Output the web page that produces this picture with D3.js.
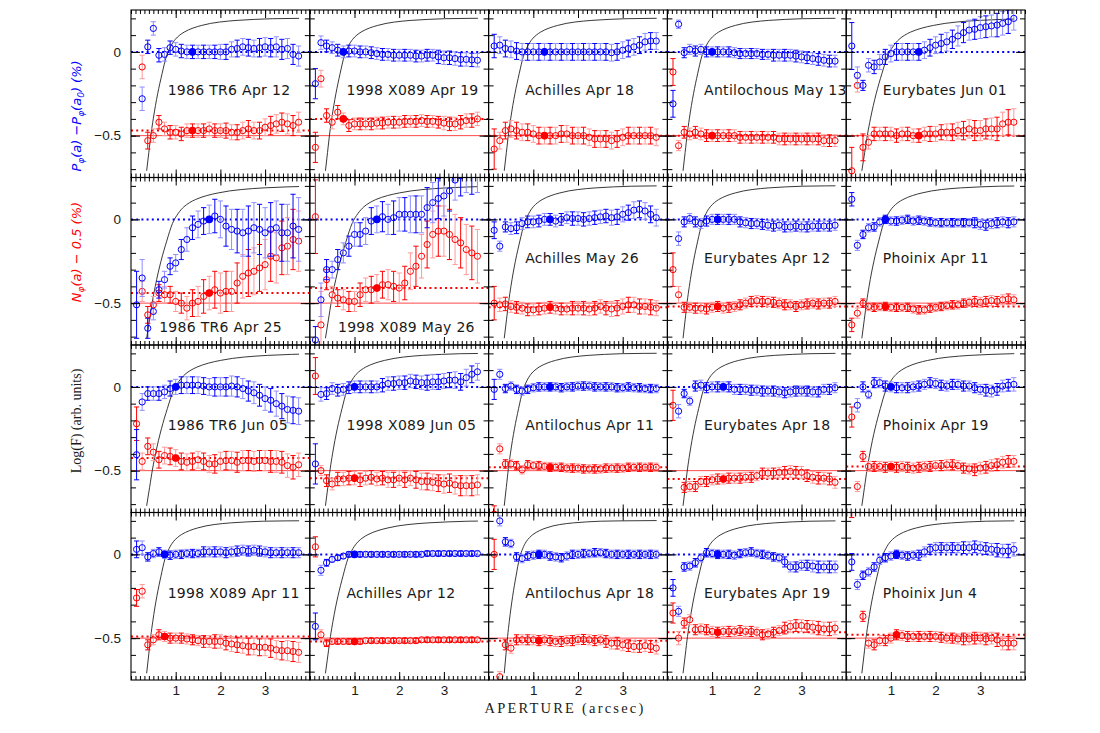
<!DOCTYPE html>
<html><head><meta charset="utf-8">
<script src="https://cdn.jsdelivr.net/npm/d3@7"></script>
<style>body{margin:0;background:#fff}svg{display:block}</style>
</head><body>
<svg id="chart" width="1100" height="733"></svg>
<script>
// ---------------- DATA ----------------
const apertures = [0.125,0.25,0.375,0.5,0.625,0.75,0.875,1,1.125,1.25,1.375,1.5,1.625,1.75,1.875,2,2.125,2.25,2.375,2.5,2.625,2.75,2.875,3,3.125,3.25,3.375,3.5,3.625,3.75];
const panelNames = ["1986 TR6 Apr 12","1998 X089 Apr 19","Achilles Apr 18","Antilochous May 13","Eurybates Jun 01",
  "1986 TR6 Apr 25","1998 X089 May 26","Achilles May 26","Eurybates Apr 12","Phoinix Apr 11",
  "1986 TR6 Jun 05","1998 X089 Jun 05","Antilochus Apr 11","Eurybates Apr 18","Phoinix Apr 19",
  "1998 X089 Apr 11","Achilles Apr 12","Antilochus Apr 18","Eurybates Apr 19","Phoinix Jun 4"];
const refIndex = [10,5,9,7,12, 13,11,10,8,6, 7,7,10,9,7, 5,7,8,8,8];
const yTickValues = [0,-0.5];
const yTickLabels = ["0","\u22120.5"];
const xTickValues = [1,2,3];
const xTickLabels = ["1","2","3"];

const blueP = [
[null,-0.28,0.03,0.14,-0.02,-0.015,0.025,0.015,0.005,0,0,0,0,0,0,0,0,0.015,0.02,0.03,0.025,0.02,0.025,0.03,0.025,0.03,0.015,0.02,-0.015,-0.025],
[-0.19,0.055,0.035,0.025,0.01,0,0.005,0.005,0,0,-0.005,-0.01,-0.015,-0.015,-0.02,-0.02,-0.02,-0.02,-0.025,-0.025,-0.02,-0.02,-0.03,-0.035,-0.035,-0.04,-0.045,-0.045,-0.048,-0.05],
[0.035,0.04,0.02,0.015,0.005,0,0,0,0,0,0,0,0,0,0,0,0,0,0,0,0,-0.005,0,0.01,0.02,0.03,0.04,0.06,0.065,0.065],
[-0.31,0.165,-0.005,0.015,0.005,0.015,0,0,0,0,0,-0.005,-0.01,-0.01,-0.01,-0.01,-0.015,-0.015,-0.02,-0.02,-0.02,-0.02,-0.025,-0.03,-0.035,-0.04,-0.045,-0.05,-0.055,-0.055],
[0.035,-0.14,-0.2,-0.08,-0.09,-0.06,-0.03,-0.01,0,0,0,0,0,0.01,0.025,0.04,0.05,0.06,0.075,0.095,0.115,0.13,0.135,0.145,0.15,0.155,0.16,0.17,0.18,0.2],
[-0.51,-0.35,-0.65,-0.55,-0.42,-0.36,-0.28,-0.26,-0.18,-0.12,-0.05,-0.03,-0.01,0,0.02,0,-0.04,-0.06,-0.07,-0.08,-0.07,-0.05,-0.06,-0.08,-0.06,-0.05,-0.08,-0.08,-0.04,-0.06],
[-0.72,-0.48,-0.30,-0.30,-0.24,-0.2,-0.16,-0.09,-0.09,-0.07,-0.01,0,0.016,0,0.01,0.03,0.03,0.03,0.03,0.03,0.07,0.1,0.125,0.14,0.17,0.235,0.26,0.28,0.27,0.28],
[-0.065,-0.16,-0.045,-0.055,-0.05,-0.025,-0.015,-0.015,-0.01,0,0,-0.01,0,0.01,0.005,0.005,0,0.005,0.01,0.015,0.02,0.01,0.015,0.03,0.04,0.055,0.06,0.05,0.03,0.01],
[null,-0.115,-0.015,0.005,-0.015,-0.025,-0.01,0,0,0,0,0,-0.015,-0.02,-0.025,-0.025,-0.03,-0.035,-0.04,-0.035,-0.045,-0.045,-0.04,-0.045,-0.045,-0.04,-0.04,-0.04,-0.04,-0.035],
[0.12,-0.155,-0.09,-0.05,-0.045,-0.015,0,-0.01,-0.01,-0.005,0,-0.01,-0.005,-0.01,-0.015,-0.02,-0.02,-0.02,-0.02,-0.02,-0.02,-0.02,-0.02,-0.03,-0.035,-0.025,-0.02,-0.015,-0.02,-0.015],
[-0.405,-0.09,-0.04,-0.04,-0.04,-0.03,-0.01,0,0.01,0.01,0.01,0.01,0.005,0,0,0,0,0.005,0,-0.01,-0.025,-0.035,-0.05,-0.07,-0.08,-0.1,-0.115,-0.135,-0.14,-0.145],
[-0.46,-0.045,-0.04,-0.01,-0.02,-0.015,-0.005,0,0,0,0,0,0.01,0.02,0.02,0.025,0.025,0.035,0.03,0.025,0.025,0.03,0.03,0.035,0.04,0.04,0.03,0.055,0.075,0.09],
[-0.015,0.075,-0.01,0.005,-0.015,-0.025,-0.015,-0.005,0,0,0,0,-0.005,0,0,0.005,0.005,0.005,0,0,0,0,-0.005,-0.005,0,-0.005,-0.005,-0.01,-0.01,-0.01],
[null,-0.145,-0.04,-0.085,0.005,0.01,-0.005,0,0,0,0,-0.015,-0.015,-0.015,-0.02,-0.02,-0.025,-0.025,-0.025,-0.03,-0.035,-0.03,-0.025,-0.025,-0.025,-0.03,-0.03,-0.015,-0.015,-0.005],
[null,-0.11,0,-0.045,0.025,0.025,0.005,0,-0.005,-0.005,-0.005,0,0.005,0.015,0.025,0.02,0.01,0.005,0.015,0.015,0.005,0.005,-0.005,-0.015,-0.02,-0.025,-0.015,0.005,0.01,0.015],
[0.03,0.04,-0.015,0.005,0.015,0,-0.005,0,0,0.005,0.005,0.005,0.015,0.015,0.015,0.015,0.01,0.015,0.02,0.025,0.02,0.025,0.02,0.015,0.01,0.01,0.01,0.01,0.01,0.01],
[-0.43,-0.095,-0.05,-0.03,-0.02,-0.01,0,0,0,0,0,0,0,0,0,0,0,0,0,0,0.005,0.005,0.005,0.005,0.005,0.005,0.005,0.005,0.005,0.005],
[null,0.2,0.075,0.065,-0.015,-0.025,-0.01,-0.005,0,0,-0.01,-0.015,-0.02,-0.01,0,0,0.005,0.005,0.01,0.01,0.005,0,0,0,0,0,0,0,0,0],
[-0.2,-0.34,-0.075,-0.07,-0.05,-0.02,0.01,0.005,0,0,0,-0.005,0.005,0.01,0.015,0.005,0,-0.005,-0.015,-0.02,-0.045,-0.075,-0.075,-0.065,-0.065,-0.07,-0.075,-0.075,-0.075,-0.075],
[-0.045,-0.18,-0.125,-0.105,-0.075,-0.035,-0.02,-0.01,0,-0.005,-0.01,-0.005,-0.005,0.015,0.03,0.04,0.04,0.04,0.04,0.04,0.04,0.04,0.045,0.04,0.035,0.03,0.025,0.02,0.02,0.03]
];
const blueErr = [
[0,.07,.04,.04,.04,.04,.04,.04,.04,.04,.04,.04,.04,.04,.04,.045,.045,.045,.05,.05,.05,.05,.055,.055,.055,.06,.06,.06,.06,.06],
[.09,.04,.035,.035,.035,.035,.035,.035,.035,.035,.035,.035,.035,.035,.035,.035,.035,.035,.035,.035,.035,.035,.04,.04,.04,.04,.04,.04,.04,.04],
[.07,.05,.05,.05,.05,.05,.05,.05,.05,.05,.05,.05,.05,.05,.05,.05,.05,.05,.05,.05,.05,.05,.05,.05,.05,.05,.05,.05,.05,.05],
[.08,.025,.03,.03,.03,.03,.03,.03,.03,.03,.03,.03,.03,.03,.03,.03,.03,.03,.035,.035,.035,.035,.035,.035,.035,.035,.035,.035,.035,.035],
[.14,.05,.03,.04,.04,.045,.045,.05,.05,.05,.05,.05,.05,.05,.05,.05,.055,.055,.055,.06,.06,.06,.06,.065,.065,.065,.07,.07,.07,.07],
[.2,.11,.06,.05,.05,.05,.05,.05,.06,.07,.07,.08,.08,.085,.1,.11,.12,.12,.13,.14,.15,.15,.15,.15,.16,.16,.17,.17,.19,.19],
[.08,.1,.06,.05,.06,.06,.06,.07,.07,.08,.08,.08,.09,.09,.1,.1,.1,.11,.11,.11,.12,.12,.12,.12,.12,.12,.12,.12,.12,.12],
[.05,.03,.03,.035,.035,.035,.035,.035,.035,.035,.035,.035,.035,.035,.04,.04,.04,.04,.04,.04,.04,.045,.045,.045,.045,.05,.05,.05,.05,.05],
[0,.04,.03,.03,.03,.03,.03,.03,.03,.03,.03,.03,.03,.03,.03,.03,.03,.03,.03,.03,.03,.03,.03,.03,.03,.03,.03,.03,.03,.03],
[.04,.03,.025,.025,.025,.025,.025,.025,.025,.025,.025,.025,.025,.025,.025,.025,.025,.025,.025,.025,.025,.025,.03,.03,.03,.03,.03,.03,.03,.03],
[.15,.05,.04,.04,.04,.04,.045,.045,.05,.05,.05,.05,.05,.05,.055,.055,.055,.06,.06,.06,.06,.065,.065,.07,.07,.075,.075,.08,.08,.08],
[.12,.04,.035,.035,.035,.035,.035,.035,.035,.035,.035,.035,.04,.04,.04,.04,.04,.04,.04,.04,.045,.045,.045,.045,.045,.05,.05,.05,.05,.05],
[.06,.03,.025,.025,.025,.025,.025,.025,.025,.025,.025,.025,.025,.025,.025,.025,.025,.025,.025,.025,.025,.025,.025,.025,.025,.025,.025,.025,.025,.025],
[0,.04,.025,.025,.03,.03,.03,.03,.03,.03,.03,.03,.03,.03,.03,.03,.03,.03,.03,.03,.03,.03,.03,.03,.03,.03,.03,.03,.03,.03],
[0,.04,.03,.025,.03,.03,.03,.03,.03,.03,.03,.03,.03,.03,.03,.03,.03,.03,.03,.03,.03,.03,.03,.03,.035,.035,.035,.035,.035,.04],
[.05,.04,.025,.025,.025,.025,.025,.025,.025,.025,.025,.025,.03,.03,.03,.03,.03,.03,.03,.03,.03,.03,.03,.03,.03,.03,.03,.03,.03,.03],
[.08,.03,.02,.015,.015,.015,.015,.015,.015,.015,.015,.015,.015,.015,.015,.015,.015,.015,.015,.015,.015,.015,.015,.015,.015,.015,.015,.015,.015,.015],
[0,.03,.025,.025,.025,.025,.025,.025,.025,.025,.025,.025,.025,.025,.025,.025,.025,.025,.025,.025,.025,.025,.025,.025,.025,.025,.025,.025,.025,.025],
[.05,.03,.025,.025,.025,.025,.025,.025,.025,.025,.025,.025,.025,.025,.025,.025,.025,.025,.025,.025,.03,.03,.03,.03,.03,.035,.035,.035,.035,.035],
[.05,.03,.025,.025,.025,.025,.025,.025,.025,.025,.025,.025,.03,.03,.03,.03,.03,.03,.03,.03,.035,.035,.035,.035,.035,.035,.04,.04,.04,.04]
];
const redN = [
[null,-0.09,-0.53,-0.5,-0.42,-0.46,-0.48,-0.48,-0.49,-0.47,-0.47,-0.47,-0.47,-0.46,-0.47,-0.47,-0.47,-0.48,-0.48,-0.47,-0.46,-0.47,-0.47,-0.45,-0.44,-0.43,-0.42,-0.43,-0.44,-0.42],
[-0.57,-0.16,-0.38,-0.42,-0.36,-0.40,-0.44,-0.43,-0.43,-0.43,-0.43,-0.425,-0.425,-0.42,-0.42,-0.42,-0.415,-0.415,-0.415,-0.41,-0.415,-0.415,-0.42,-0.425,-0.43,-0.43,-0.42,-0.41,-0.41,-0.40],
[-0.58,-0.53,-0.47,-0.46,-0.47,-0.48,-0.48,-0.49,-0.5,-0.5,-0.5,-0.5,-0.49,-0.49,-0.5,-0.5,-0.5,-0.51,-0.52,-0.52,-0.52,-0.53,-0.52,-0.51,-0.5,-0.5,-0.5,-0.5,-0.5,-0.51],
[-0.12,-0.56,-0.48,-0.49,-0.48,-0.49,-0.5,-0.5,-0.5,-0.5,-0.5,-0.5,-0.51,-0.51,-0.51,-0.51,-0.51,-0.51,-0.51,-0.52,-0.52,-0.52,-0.52,-0.52,-0.52,-0.52,-0.52,-0.53,-0.53,-0.53],
[-0.71,-0.2,-0.57,-0.54,-0.49,-0.49,-0.49,-0.49,-0.5,-0.49,-0.49,-0.5,-0.5,-0.49,-0.49,-0.49,-0.48,-0.48,-0.48,-0.47,-0.47,-0.46,-0.47,-0.47,-0.46,-0.46,-0.46,-0.43,-0.42,-0.42],
[null,-0.43,-0.57,-0.51,-0.44,-0.45,-0.45,-0.49,-0.5,-0.53,-0.5,-0.49,-0.46,-0.44,-0.42,-0.44,-0.43,-0.43,-0.38,-0.34,-0.32,-0.31,-0.29,-0.27,-0.22,-0.23,-0.17,-0.16,-0.12,-0.13],
[0.016,-0.63,-0.36,-0.45,-0.47,-0.48,-0.49,-0.49,-0.45,-0.42,-0.42,-0.41,-0.39,-0.39,-0.40,-0.41,-0.38,-0.31,-0.28,-0.22,-0.15,-0.09,-0.07,-0.07,-0.09,-0.12,-0.14,-0.18,-0.2,-0.22],
[-0.5,-0.51,-0.505,-0.52,-0.525,-0.53,-0.54,-0.54,-0.535,-0.53,-0.525,-0.53,-0.535,-0.535,-0.53,-0.53,-0.53,-0.535,-0.53,-0.52,-0.53,-0.535,-0.53,-0.52,-0.51,-0.51,-0.52,-0.52,-0.525,-0.53],
[-0.3,-0.45,-0.525,-0.525,-0.53,-0.53,-0.535,-0.525,-0.52,-0.53,-0.525,-0.52,-0.51,-0.5,-0.49,-0.485,-0.49,-0.49,-0.495,-0.5,-0.51,-0.51,-0.52,-0.51,-0.505,-0.5,-0.505,-0.5,-0.5,-0.49],
[-0.63,-0.56,-0.5,-0.52,-0.525,-0.52,-0.52,-0.525,-0.525,-0.525,-0.525,-0.535,-0.54,-0.54,-0.53,-0.525,-0.52,-0.515,-0.51,-0.51,-0.5,-0.495,-0.49,-0.495,-0.49,-0.485,-0.49,-0.48,-0.475,-0.48],
[-0.22,-0.445,-0.355,-0.39,-0.435,-0.41,-0.415,-0.425,-0.445,-0.45,-0.445,-0.435,-0.445,-0.46,-0.46,-0.445,-0.44,-0.44,-0.45,-0.44,-0.44,-0.445,-0.44,-0.44,-0.445,-0.445,-0.45,-0.47,-0.48,-0.465],
[0.065,-0.5,-0.56,-0.58,-0.55,-0.55,-0.545,-0.545,-0.555,-0.545,-0.54,-0.55,-0.545,-0.555,-0.555,-0.545,-0.555,-0.545,-0.555,-0.565,-0.565,-0.57,-0.575,-0.58,-0.575,-0.585,-0.59,-0.59,-0.59,-0.585],
[-0.76,-0.37,-0.46,-0.46,-0.47,-0.495,-0.465,-0.47,-0.47,-0.475,-0.48,-0.48,-0.48,-0.485,-0.485,-0.485,-0.49,-0.49,-0.49,-0.49,-0.485,-0.485,-0.485,-0.485,-0.48,-0.48,-0.48,-0.48,-0.48,-0.48],
[-0.11,null,-0.6,-0.595,-0.595,-0.565,-0.565,-0.555,-0.55,-0.55,-0.545,-0.545,-0.545,-0.54,-0.54,-0.53,-0.515,-0.515,-0.515,-0.51,-0.51,-0.505,-0.51,-0.51,-0.53,-0.54,-0.545,-0.545,-0.55,-0.57],
[-0.18,-0.595,-0.415,-0.475,-0.475,-0.475,-0.48,-0.475,-0.48,-0.475,-0.48,-0.485,-0.48,-0.475,-0.475,-0.47,-0.47,-0.465,-0.465,-0.47,-0.485,-0.49,-0.495,-0.485,-0.48,-0.47,-0.465,-0.45,-0.445,-0.445],
[-0.26,-0.22,-0.54,-0.51,-0.48,-0.49,-0.5,-0.5,-0.5,-0.505,-0.51,-0.515,-0.52,-0.52,-0.52,-0.52,-0.53,-0.535,-0.54,-0.545,-0.55,-0.55,-0.555,-0.555,-0.56,-0.57,-0.575,-0.575,-0.58,-0.585],
[0.045,-0.48,-0.53,-0.52,-0.52,-0.52,-0.52,-0.52,-0.52,-0.515,-0.515,-0.515,-0.515,-0.515,-0.515,-0.515,-0.515,-0.515,-0.515,-0.51,-0.51,-0.51,-0.51,-0.51,-0.51,-0.51,-0.51,-0.51,-0.51,-0.51],
[0,-0.73,-0.54,-0.56,-0.51,-0.51,-0.51,-0.51,-0.515,-0.51,-0.515,-0.52,-0.52,-0.515,-0.515,-0.508,-0.508,-0.51,-0.515,-0.51,-0.52,-0.53,-0.53,-0.54,-0.545,-0.55,-0.55,-0.545,-0.55,-0.56],
[-0.35,-0.5,-0.41,-0.39,-0.45,-0.445,-0.45,-0.46,-0.465,-0.46,-0.46,-0.46,-0.455,-0.46,-0.46,-0.465,-0.48,-0.475,-0.465,-0.455,-0.44,-0.43,-0.425,-0.425,-0.43,-0.435,-0.44,-0.445,-0.445,-0.44],
[0.27,null,-0.37,-0.53,-0.54,-0.515,-0.515,-0.5,-0.48,-0.485,-0.49,-0.49,-0.49,-0.49,-0.49,-0.49,-0.495,-0.5,-0.5,-0.505,-0.505,-0.505,-0.5,-0.5,-0.505,-0.5,-0.51,-0.53,-0.53,-0.53]
];
const redErr = [
[0,.07,.05,.04,.04,.04,.04,.04,.04,.04,.04,.04,.04,.04,.04,.04,.045,.045,.045,.05,.05,.05,.05,.05,.055,.055,.055,.06,.06,.06],
[.09,.05,.04,.04,.04,.035,.035,.035,.035,.035,.035,.035,.035,.035,.035,.035,.035,.035,.035,.035,.035,.035,.035,.04,.04,.04,.04,.04,.04,.04],
[.12,.05,.05,.05,.05,.05,.05,.05,.05,.05,.05,.05,.05,.05,.05,.05,.05,.05,.05,.05,.05,.05,.05,.05,.05,.05,.05,.05,.05,.05],
[.08,.03,.035,.035,.035,.035,.035,.035,.035,.035,.035,.035,.035,.035,.035,.035,.035,.035,.035,.035,.035,.035,.035,.035,.035,.035,.035,.035,.035,.035],
[.14,.04,.08,.04,.04,.04,.04,.04,.04,.04,.04,.04,.04,.04,.045,.045,.045,.05,.05,.05,.055,.055,.06,.06,.06,.065,.07,.07,.075,.08],
[0,.06,.05,.05,.05,.05,.05,.06,.06,.07,.08,.09,.1,.1,.11,.12,.12,.12,.12,.13,.14,.14,.14,.15,.15,.15,.16,.17,.18,.18],
[.22,.2,.06,.05,.05,.06,.06,.06,.07,.07,.08,.08,.08,.09,.09,.09,.1,.11,.12,.13,.14,.14,.15,.15,.15,.15,.15,.15,.16,.16],
[.1,.04,.04,.035,.035,.035,.035,.035,.035,.035,.035,.035,.035,.035,.04,.04,.04,.04,.04,.04,.04,.045,.045,.045,.045,.045,.045,.045,.045,.045],
[.1,.05,.03,.03,.03,.03,.03,.03,.03,.03,.03,.03,.03,.03,.03,.03,.03,.03,.03,.03,.03,.03,.03,.03,.03,.03,.03,.03,.03,.03],
[.04,.03,.025,.025,.025,.025,.025,.025,.025,.025,.025,.025,.025,.025,.025,.025,.025,.025,.025,.025,.025,.025,.03,.03,.03,.03,.03,.03,.03,.03],
[.1,.05,.05,.05,.05,.05,.05,.05,.05,.05,.05,.05,.05,.05,.055,.055,.055,.055,.06,.06,.06,.06,.06,.06,.065,.065,.065,.07,.07,.07],
[.11,.03,.035,.035,.04,.04,.04,.04,.04,.04,.04,.04,.04,.045,.045,.045,.045,.045,.05,.05,.05,.05,.05,.055,.055,.055,.06,.06,.06,.06],
[.05,.03,.025,.025,.025,.025,.025,.025,.025,.025,.025,.025,.025,.025,.025,.025,.025,.025,.025,.025,.025,.025,.025,.025,.025,.025,.025,.025,.025,.025],
[.09,0,.03,.03,.03,.03,.03,.03,.03,.03,.03,.03,.03,.03,.03,.03,.03,.03,.03,.03,.035,.035,.035,.035,.035,.035,.035,.035,.035,.035],
[.06,.03,.03,.03,.03,.03,.03,.03,.03,.03,.03,.03,.03,.03,.03,.03,.03,.03,.03,.03,.03,.03,.035,.035,.035,.035,.035,.035,.035,.035],
[.05,.04,.03,.03,.03,.03,.03,.03,.03,.03,.03,.03,.035,.035,.04,.04,.04,.045,.045,.045,.05,.05,.05,.05,.055,.055,.055,.06,.06,.06],
[.06,.03,.02,.015,.015,.015,.015,.015,.015,.015,.015,.015,.015,.015,.015,.015,.015,.015,.015,.015,.015,.015,.015,.015,.015,.015,.015,.015,.015,.015],
[.09,.03,.03,.03,.03,.03,.03,.03,.03,.03,.03,.03,.03,.03,.03,.03,.03,.03,.03,.03,.035,.035,.035,.035,.035,.035,.035,.035,.035,.035],
[.06,.04,.03,.03,.03,.03,.03,.03,.03,.03,.03,.03,.03,.03,.03,.03,.03,.03,.03,.03,.035,.035,.035,.035,.035,.04,.04,.04,.04,.04],
[.05,0,.03,.03,.03,.03,.03,.03,.03,.03,.03,.03,.03,.03,.03,.03,.03,.03,.03,.03,.035,.035,.035,.035,.035,.035,.04,.04,.04,.04]
];
// growth curve Log(F) (shape) and where each panel's curve crosses zero
const curveX = [0.35,0.4,0.45,0.5,0.55,0.6,0.7,0.8,0.9,1.0,1.1,1.2,1.4,1.6,1.8,2.0,2.4,2.8,3.2,3.76,5.0,6.0];
const curveY = [-0.71,-0.6,-0.49,-0.4,-0.32,-0.25,-0.13,-0.025,0.035,0.075,0.1,0.118,0.142,0.158,0.17,0.178,0.188,0.194,0.198,0.2,0.202,0.203];
const curveZero = [0.835,0.81,0.82,0.81,0.98, 0.98,1.0,0.84,0.81,0.88, 1.0,0.87,0.8,0.84,0.93, 0.8,0.9,0.72,0.84,0.83];
const curveEnd = 3.76;

// ---------------- LAYOUT ----------------
const L = 131, T = 10, PW = 178.8, PH = 167.5;
const BLUE = "#0000ff", BLUE_PALE = "#8f8fff", RED = "#ff0000", RED_PALE = "#ff9a9a";
const TEXT = "#1a1a1a";
const svg = d3.select("#chart");
const defs = svg.append("defs");
const xs = d3.scaleLinear().domain([0, 4]).range([0, PW]);
const ys = d3.scaleLinear().domain([-0.75, 0.25]).range([PH, 0]);

let baseZero = 0.835;
for (let i = 1; i < curveX.length; i++) {
  if (curveY[i - 1] < 0 && curveY[i] >= 0) {
    baseZero = curveX[i - 1] + (curveX[i] - curveX[i - 1]) * (-curveY[i - 1]) / (curveY[i] - curveY[i - 1]);
    break;
  }
}

defs.append("clipPath").attr("id", "clipPanel").append("rect").attr("width", PW).attr("height", PH);
defs.append("clipPath").attr("id", "clipCurve").append("rect").attr("width", xs(curveEnd)).attr("height", PH);

const lineGen = d3.line().x(d => xs(d[0])).y(d => ys(d[1])).curve(d3.curveMonotoneX);

function drawSeries(plot, vals, errs, color, pale) {
  const pts = apertures.map((a, i) => ({ a, v: vals[i], e: errs[i], i })).filter(d => d.v !== null);
  const eb = plot.append("g");
  pts.filter(d => d.e > 0).forEach(d => {
    const c = d.i % 2 === 0 ? color : pale;
    const x = xs(d.a), y1 = ys(d.v - d.e), y2 = ys(d.v + d.e);
    eb.append("line").attr("x1", x).attr("x2", x).attr("y1", y1).attr("y2", y2).attr("stroke", c).attr("stroke-width", 1);
    eb.append("line").attr("x1", x - 2.6).attr("x2", x + 2.6).attr("y1", y1).attr("y2", y1).attr("stroke", c).attr("stroke-width", 1);
    eb.append("line").attr("x1", x - 2.6).attr("x2", x + 2.6).attr("y1", y2).attr("y2", y2).attr("stroke", c).attr("stroke-width", 1);
  });
  plot.append("g").selectAll("circle").data(pts).join("circle")
    .attr("cx", d => xs(d.a)).attr("cy", d => ys(d.v)).attr("r", 3.1)
    .attr("fill", "none").attr("stroke", color).attr("stroke-width", 1);
}

panelNames.forEach((name, p) => {
  const r = Math.floor(p / 5), c = p % 5;
  const g = svg.append("g").attr("transform", `translate(${L + c * PW},${T + r * PH})`);
  const plot = g.append("g").attr("clip-path", "url(#clipPanel)");
  const f = refIndex[p];

  plot.append("line").attr("x1", 0).attr("x2", PW).attr("y1", ys(-0.5)).attr("y2", ys(-0.5))
    .attr("stroke", "#ff4a4a").attr("stroke-width", 1);

  const k = (curveZero[p] - 0.35) / (baseZero - 0.35);
  const cpts = curveX.map((x, i) => [0.35 + (x - 0.35) * k, curveY[i]]);
  plot.append("g").attr("clip-path", "url(#clipCurve)").append("path").datum(cpts)
    .attr("d", lineGen).attr("fill", "none").attr("stroke", "#222").attr("stroke-width", 0.9);

  plot.append("line").attr("x1", 0).attr("x2", PW).attr("y1", ys(blueP[p][f])).attr("y2", ys(blueP[p][f]))
    .attr("stroke", BLUE).attr("stroke-width", 2).attr("stroke-dasharray", "2,3.2");
  plot.append("line").attr("x1", 0).attr("x2", PW).attr("y1", ys(redN[p][f])).attr("y2", ys(redN[p][f]))
    .attr("stroke", RED).attr("stroke-width", 2).attr("stroke-dasharray", "2,3.2");

  drawSeries(plot, redN[p], redErr[p], RED, RED_PALE);
  drawSeries(plot, blueP[p], blueErr[p], BLUE, BLUE_PALE);

  plot.append("circle").attr("cx", xs(apertures[f])).attr("cy", ys(redN[p][f])).attr("r", 3.8).attr("fill", RED);
  plot.append("circle").attr("cx", xs(apertures[f])).attr("cy", ys(blueP[p][f])).attr("r", 3.8).attr("fill", BLUE);

  const strip = sel => sel.call(s => s.select(".domain").remove()).selectAll("line").attr("stroke", "#000");
  const minX = xs.ticks(40), minY = d3.range(-0.7, 0.25, 0.1).map(v => Math.round(v * 10) / 10);
  g.append("g").attr("transform", `translate(0,${PH})`).call(d3.axisBottom(xs).tickValues(minX).tickSize(-4).tickFormat("")).call(strip);
  g.append("g").attr("transform", `translate(0,${PH})`).call(d3.axisBottom(xs).tickValues(xTickValues).tickSize(-8).tickFormat("")).call(strip);
  g.append("g").call(d3.axisTop(xs).tickValues(minX).tickSize(-4).tickFormat("")).call(strip);
  g.append("g").call(d3.axisTop(xs).tickValues(xTickValues).tickSize(-8).tickFormat("")).call(strip);
  g.append("g").call(d3.axisLeft(ys).tickValues(minY).tickSize(-5).tickFormat("")).call(strip);
  g.append("g").call(d3.axisLeft(ys).tickValues(yTickValues).tickSize(-9).tickFormat("")).call(strip);
  g.append("g").attr("transform", `translate(${PW},0)`).call(d3.axisRight(ys).tickValues(minY).tickSize(-5).tickFormat("")).call(strip);
  g.append("g").attr("transform", `translate(${PW},0)`).call(d3.axisRight(ys).tickValues(yTickValues).tickSize(-9).tickFormat("")).call(strip);

  g.append("rect").attr("width", PW).attr("height", PH).attr("fill", "none").attr("stroke", "#000").attr("stroke-width", 1.1);

  if (c === 0) {
    const ax = g.append("g").call(d3.axisLeft(ys).tickValues(yTickValues).tickSize(0).tickPadding(10)
      .tickFormat((d, i) => yTickLabels[i]));
    ax.select(".domain").remove();
    ax.selectAll("text").attr("font-family", "Liberation Sans, Arial, sans-serif").attr("font-size", 13.5).attr("fill", TEXT);
  }
  if (r === 3) {
    const ax = g.append("g").attr("transform", `translate(0,${PH})`).call(d3.axisBottom(xs).tickValues(xTickValues).tickSize(0).tickPadding(5)
      .tickFormat((d, i) => xTickLabels[i]));
    ax.select(".domain").remove();
    ax.selectAll("text").attr("font-family", "Liberation Sans, Arial, sans-serif").attr("font-size", 13.5).attr("fill", TEXT);
  }

  const low = (p === 5 || p === 6);
  g.append("text").attr("x", xs(low ? 0.63 : 0.82)).attr("y", ys(low ? -0.645 : -0.228))
    .attr("dominant-baseline", "central").attr("font-family", "DejaVu Sans, sans-serif").attr("font-size", 14)
    .attr("letter-spacing", 0.3).attr("fill", TEXT).text(name);
});

function rich(parent, parts, color, italic) {
  const t = parent.append("text").attr("text-anchor", "middle").attr("fill", color)
    .attr("font-family", "DejaVu Sans, sans-serif").attr("font-size", 13).attr("font-style", italic ? "italic" : "normal");
  let shifted = 0;
  parts.forEach(([s, sub]) => {
    const sp = t.append("tspan").text(s);
    if (sub) { sp.attr("font-size", 9).attr("dy", 3 - shifted); shifted = 3; }
    else { if (shifted) sp.attr("dy", -shifted); shifted = 0; }
  });
  return t;
}
rich(svg.append("g").attr("transform", "translate(81,116) rotate(-90)"),
  [["P"], ["\u03c6", 1], ["(a) \u2212P"], ["\u03c6", 1], ["(a"], ["0", 1], [") (%)"]], BLUE, true);
rich(svg.append("g").attr("transform", "translate(81,252) rotate(-90)"),
  [["N"], ["\u03c6", 1], ["(a) \u2212 0.5 (%)"]], RED, true);
svg.append("text").attr("transform", "translate(81,421) rotate(-90)").attr("text-anchor", "middle")
  .attr("font-family", "Liberation Serif, serif").attr("font-size", 14).attr("fill", TEXT).text("Log(F) (arb. units)");
svg.append("text").attr("x", 565).attr("y", 713).attr("text-anchor", "middle")
  .attr("font-family", "Liberation Serif, serif").attr("font-size", 14.5).attr("letter-spacing", 2.2)
  .attr("fill", TEXT).text("APERTURE (arcsec)");
</script>
</body></html>
